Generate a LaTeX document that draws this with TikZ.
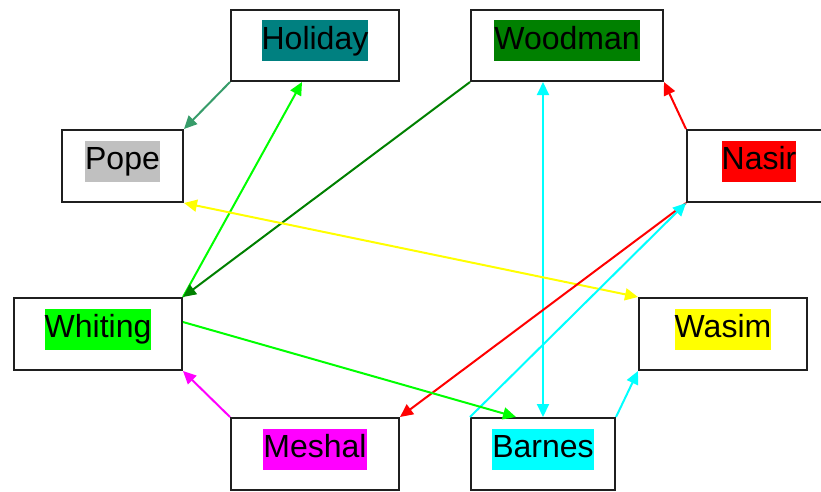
\documentclass[tikz,border=0pt]{standalone}
\usepackage{fontspec}
\setmainfont{Liberation Sans}
\usetikzlibrary{arrows.meta,calc}
\definecolor{hteal}{HTML}{008080}
\definecolor{hgreen}{HTML}{008000}
\definecolor{hgray}{HTML}{C0C0C0}
\definecolor{hred}{HTML}{FF0000}
\definecolor{hlime}{HTML}{00FF00}
\definecolor{hyellow}{HTML}{FFFF00}
\definecolor{hmag}{HTML}{FF00FF}
\definecolor{hcyan}{HTML}{00FFFF}
\definecolor{hsea}{HTML}{379C6A}
\tikzset{
  box/.style={draw=black!88, line width=2pt, minimum height=71pt, inner sep=0pt},
  lab/.style={inner xsep=0pt, inner ysep=1pt, text height=28pt, text depth=11pt,
    font=\fontsize{32}{38}\selectfont, text=black},
  conn/.style={line width=2pt, -{Triangle[length=13pt,width=12pt]}},
  conn2/.style={line width=2pt, {Triangle[length=13pt,width=12pt]}-{Triangle[length=13pt,width=12pt]}},
}
\begin{document}
\begin{tikzpicture}[x=1pt,y=-1pt]
\useasboundingbox (0,0) rectangle (821,491);
\clip (0,0) rectangle (821,491);
% boxes
\node[box, minimum width=168pt] (hol) at (315,45.5) {};
\node[box, minimum width=192pt] (woo) at (567,45.5) {};
\node[box, minimum width=121pt, minimum height=72pt] (pop) at (122.5,166) {};
\node[box, minimum width=144pt, minimum height=72pt] (nas) at (759,166) {};
\node[box, minimum width=168pt, minimum height=72pt] (whi) at (98,334) {};
\node[box, minimum width=168pt, minimum height=72pt] (was) at (723,334) {};
\node[box, minimum width=168pt, minimum height=72pt] (mes) at (315,454) {};
\node[box, minimum width=144pt, minimum height=72pt] (bar) at (543,454) {};
% labels
\node[lab, fill=hteal] (holt) at ($(hol.center)+(0,-5)$) {Holiday};
\node[lab, fill=hgreen] (woot) at ($(woo.center)+(0,-5)$) {Woodman};
\node[lab, fill=hgray] (popt) at ($(pop.center)+(0,-5)$) {Pope};
\node[lab, fill=hred] (nast) at ($(nas.center)+(0,-5)$) {Nasir};
\node[lab, fill=hlime] (whit) at ($(whi.center)+(0,-5)$) {Whiting};
\node[lab, fill=hyellow] (wast) at ($(was.center)+(0,-5)$) {Wasim};
\node[lab, fill=hmag] (mest) at ($(mes.center)+(0,-5)$) {Meshal};
\node[lab, fill=hcyan] (bart) at ($(bar.center)+(0,-5)$) {Barnes};
% connectors
\draw[conn, hsea] (hol.south west) -- (pop.north east);
\draw[conn, hlime] (whi.north east) -- ($(hol.south)+(-13,0)$);
\draw[conn, hgreen] (woo.south west) -- (whi.north east);
\draw[conn2, hcyan] (woo.south -| bar.north) -- (bar.north);
\draw[conn, hred] (nas.north west) -- (woo.south east);
\draw[conn2, hyellow] (pop.south east) -- (was.north west);
\draw[conn, hred] (nas.south west) -- (mes.north east);
\draw[conn, hcyan] (bar.north west) -- (nas.south west);
\draw[conn, hlime] ($(whi.east)+(0,-12)$) -- ($(bar.north)+(-27,0)$);
\draw[conn, hmag] (mes.north west) -- (whi.south east);
\draw[conn, hcyan] (bar.north east) -- (was.south west);
\end{tikzpicture}
\end{document}
